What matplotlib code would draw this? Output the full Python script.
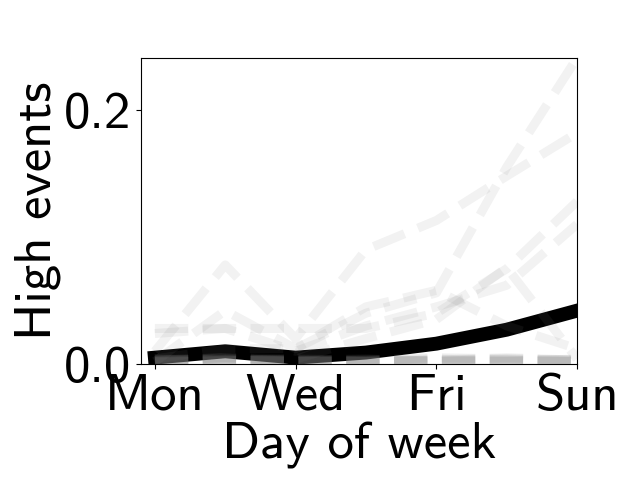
from matplotlib import pyplot as plt
import numpy as np

plt.rcParams['font.family'] = ['cmss10', 'DejaVu Sans']
plt.rcParams['axes.unicode_minus'] = False
plt.rcParams['mathtext.fontset'] = 'cm'

days = ['Mon', 'Tue', 'Wed', 'Thu', 'Fri', 'Sat', 'Sun']
tick_days = ['Mon', 'Wed', 'Fri', 'Sun']

# mean curve
mean_events = [0.005, 0.010, 0.005, 0.009, 0.016, 0.027, 0.042]

# individual runs (faint dashed)
run_1 = [0.010, 0.078, 0.020, 0.090, 0.113, 0.148, 0.182]
run_2 = [0.004, 0.012, 0.012, 0.040, 0.056, 0.155, 0.241]
run_3 = [0.028, 0.028, 0.028, 0.028, 0.040, 0.075, 0.128]
run_4 = [0.002, 0.042, 0.012, 0.045, 0.058, 0.030, 0.012]
run_5 = [0.003, 0.005, 0.004, 0.020, 0.035, 0.076, 0.004]
run_6 = [0.024, 0.028, 0.010, 0.030, 0.045, 0.062, 0.110]
run_7 = [0.002, 0.003, 0.002, 0.003, 0.004, 0.003, 0.002]
run_8 = [0.003, 0.004, 0.003, 0.002, 0.003, 0.005, 0.003]
run_9 = [0.002, 0.002, 0.004, 0.003, 0.002, 0.004, 0.003]
run_10 = [0.003, 0.005, 0.002, 0.002, 0.003, 0.003, 0.002]
run_11 = [0.001, 0.003, 0.003, 0.004, 0.002, 0.002, 0.004]
run_12 = [0.004, 0.003, 0.002, 0.003, 0.005, 0.004, 0.003]
run_13 = [0.002, 0.004, 0.003, 0.002, 0.003, 0.002, 0.002]
runs = [run_1, run_2, run_3, run_4, run_5, run_6, run_7,
        run_8, run_9, run_10, run_11, run_12, run_13]

x = np.arange(len(days))

fig = plt.figure(figsize=(6.4, 4.8), dpi=100)
ax = fig.add_axes([0.22, 0.2417, 0.6816, 0.6375])

ax.plot(x, mean_events, color='black', linewidth=10, zorder=2)
for run in runs:
    ax.plot(x, run, color='0.5', alpha=0.1, linewidth=6.5,
            linestyle='--', zorder=3)

ax.set_xlim(-0.2, 6)
ax.set_ylim(0, 0.241)
ax.set_xticks([0, 2, 4, 6])
ax.set_xticklabels(tick_days)
ax.set_yticks([0.0, 0.2])
ax.set_yticklabels(['0.0', '0.2'])
ax.tick_params(labelsize=38)
ax.set_xlabel('Day of week', fontsize=38, labelpad=2)
ax.set_ylabel('High events', fontsize=38, labelpad=2)

fig.savefig('out.png', dpi=100)
